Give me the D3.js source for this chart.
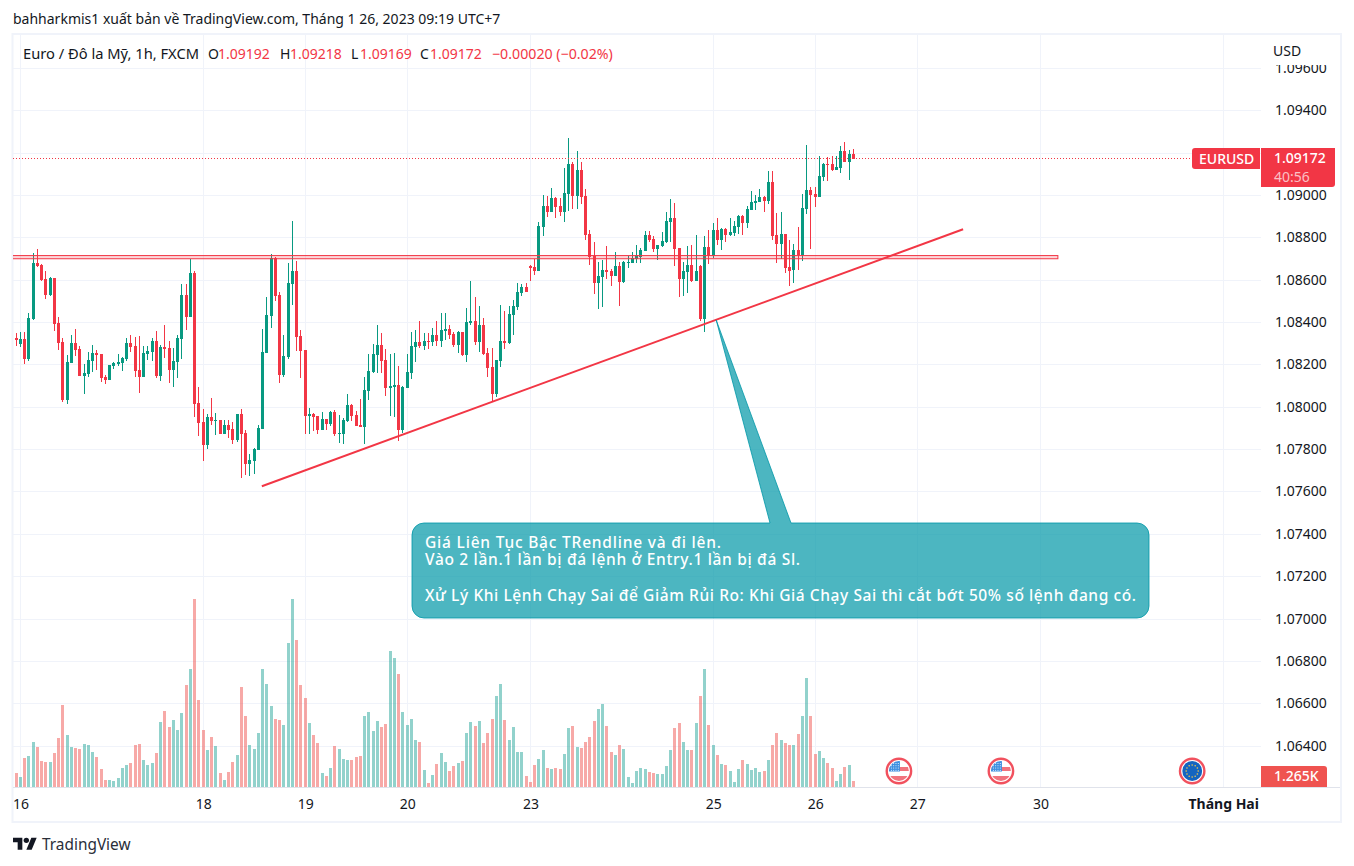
<!DOCTYPE html>
<html>
<head>
<meta charset="utf-8">
<script src="https://cdn.jsdelivr.net/npm/d3@7"></script>
<style>
html, body { margin: 0; padding: 0; background: #fff; }
svg { display: block; }
text { font-family: "Noto Sans", sans-serif; fill: #131722; }
</style>
</head>
<body>
<script>
// candles (1h EURUSD)
var opens = [
1.08325,1.08297,1.08320,1.08226,1.08415,1.08679,1.08669,1.08603,1.08528,1.08608,
1.08396,1.08306,1.08032,1.08207,1.08301,1.08273,1.08146,1.08155,1.08216,1.08254,
1.08249,1.08141,1.08127,1.08193,1.08202,1.08207,1.08226,1.08301,1.08287,1.08174,
1.08141,1.08249,1.08259,1.08311,1.08146,1.08282,1.08278,1.08174,1.08212,1.08320,
1.08528,1.08424,1.08632,1.08018,1.07929,1.07820,1.07952,1.07933,1.07938,1.07872,
1.07914,1.07896,1.07844,1.07966,1.07877,1.07730,1.07745,1.07796,1.07896,1.08254,
1.08429,1.08702,1.08528,1.08150,1.08235,1.08580,1.08642,1.08335,1.08269,1.07957,
1.07967,1.07957,1.07891,1.07943,1.07920,1.07976,1.07872,1.07872,1.07934,1.08009,
1.07962,1.07915,1.07905,1.08075,1.08165,1.08245,1.08292,1.08222,1.08089,1.08094,
1.08104,1.07891,1.08089,1.08160,1.08283,1.08307,1.08288,1.08311,1.08307,1.08340,
1.08311,1.08358,1.08368,1.08344,1.08292,1.08354,1.08245,1.08396,1.08406,1.08307,
1.08387,1.08255,1.08189,1.08061,1.08217,1.08311,1.08302,1.08434,1.08472,1.08538,
1.08566,1.08665,1.08660,1.08642,1.08849,1.08948,1.08920,1.08986,1.08948,1.08920,
1.09005,1.09147,1.08996,1.09118,1.08996,1.08816,1.08712,1.08585,1.08613,1.08646,
1.08642,1.08618,1.08665,1.08590,1.08679,1.08679,1.08698,1.08708,1.08736,1.08812,
1.08793,1.08745,1.08760,1.08778,1.08873,1.08892,1.08750,1.08604,1.08637,1.08670,
1.08594,1.08665,1.08415,1.08755,1.08712,1.08835,1.08788,1.08840,1.08812,1.08821,
1.08849,1.08901,1.08868,1.08929,1.08963,1.08967,1.08991,1.08972,1.09062,1.08812,
1.08769,1.08816,1.08660,1.08646,1.08741,1.08717,1.08934,1.09024,1.09005,1.08991,
1.09085,1.09147,1.09147,1.09118,1.09128,1.09208,1.09156,1.09192]
var highs = [
1.08347,1.08353,1.08352,1.08441,1.08726,1.08745,1.08673,1.08641,1.08613,1.08608,
1.08424,1.08325,1.08245,1.08339,1.08367,1.08287,1.08202,1.08259,1.08292,1.08268,
1.08249,1.08150,1.08198,1.08212,1.08249,1.08235,1.08325,1.08339,1.08330,1.08334,
1.08287,1.08287,1.08325,1.08358,1.08292,1.08386,1.08311,1.08278,1.08339,1.08580,
1.08580,1.08698,1.08641,1.08094,1.07990,1.07966,1.08042,1.07971,1.07938,1.07938,
1.07938,1.07929,1.07966,1.07990,1.07891,1.07778,1.07806,1.07914,1.08367,1.08518,
1.08721,1.08707,1.08542,1.08339,1.08679,1.08877,1.08689,1.08363,1.08269,1.07995,
1.07972,1.07957,1.07976,1.07943,1.07981,1.07986,1.07962,1.07948,1.08061,1.08014,
1.07981,1.08038,1.08141,1.08250,1.08297,1.08387,1.08349,1.08274,1.08250,1.08255,
1.08193,1.08099,1.08250,1.08354,1.08363,1.08406,1.08349,1.08349,1.08373,1.08406,
1.08443,1.08443,1.08387,1.08354,1.08358,1.08354,1.08467,1.08594,1.08519,1.08476,
1.08420,1.08278,1.08278,1.08222,1.08481,1.08453,1.08476,1.08505,1.08585,1.08580,
1.08585,1.08670,1.08698,1.08873,1.09000,1.08996,1.09033,1.08991,1.08986,1.09128,
1.09269,1.09156,1.09208,1.09156,1.09029,1.08835,1.08778,1.08684,1.08694,1.08760,
1.08651,1.08731,1.08684,1.08689,1.08712,1.08731,1.08764,1.08750,1.08830,1.08830,
1.08807,1.08764,1.08826,1.08920,1.08981,1.08963,1.08750,1.08684,1.08760,1.08764,
1.08812,1.08670,1.08807,1.08835,1.08868,1.08892,1.08845,1.08845,1.08892,1.08878,
1.08906,1.08906,1.08948,1.09019,1.09000,1.09029,1.08996,1.09114,1.09114,1.08915,
1.08920,1.08816,1.08788,1.08769,1.08849,1.09005,1.09236,1.09038,1.09038,1.09184,
1.09151,1.09180,1.09184,1.09184,1.09231,1.09250,1.09213,1.09218]
var lows = [
1.08289,1.08282,1.08204,1.08218,1.08410,1.08660,1.08594,1.08509,1.08523,1.08358,
1.08268,1.08023,1.08014,1.08207,1.08240,1.08146,1.08061,1.08141,1.08165,1.08174,
1.08117,1.08108,1.08127,1.08179,1.08193,1.08169,1.08216,1.08259,1.08141,1.08065,
1.08141,1.08221,1.08216,1.08136,1.08122,1.08231,1.08113,1.08094,1.08136,1.08226,
1.08363,1.08424,1.07952,1.07863,1.07745,1.07801,1.07914,1.07867,1.07872,1.07872,
1.07853,1.07825,1.07834,1.07664,1.07678,1.07674,1.07683,1.07796,1.07896,1.08254,
1.08372,1.08500,1.08113,1.08141,1.08226,1.08481,1.08264,1.08137,1.07872,1.07872,
1.07887,1.07872,1.07891,1.07891,1.07910,1.07863,1.07830,1.07825,1.07929,1.07934,
1.07910,1.07905,1.07825,1.08033,1.08160,1.08160,1.08160,1.08052,1.07957,1.07953,
1.07839,1.07877,1.08089,1.08132,1.08212,1.08278,1.08269,1.08274,1.08288,1.08288,
1.08283,1.08316,1.08321,1.08283,1.08255,1.08241,1.08212,1.08387,1.08292,1.08259,
1.08245,1.08141,1.08023,1.08047,1.08189,1.08274,1.08297,1.08340,1.08458,1.08524,
1.08543,1.08594,1.08623,1.08642,1.08807,1.08896,1.08920,1.08892,1.08901,1.08873,
1.08925,1.08934,1.08934,1.08958,1.08788,1.08670,1.08533,1.08462,1.08472,1.08604,
1.08571,1.08618,1.08476,1.08585,1.08656,1.08679,1.08679,1.08679,1.08736,1.08778,
1.08731,1.08694,1.08755,1.08774,1.08778,1.08665,1.08519,1.08524,1.08538,1.08590,
1.08594,1.08406,1.08354,1.08675,1.08703,1.08764,1.08741,1.08778,1.08807,1.08807,
1.08816,1.08812,1.08845,1.08929,1.08929,1.08967,1.08920,1.08958,1.08788,1.08679,
1.08698,1.08632,1.08571,1.08585,1.08646,1.08689,1.08911,1.08745,1.08944,1.08991,
1.09066,1.09066,1.09114,1.09118,1.09104,1.09156,1.09071,1.09169]
var closes = [
1.08316,1.08320,1.08226,1.08419,1.08679,1.08665,1.08599,1.08528,1.08608,1.08391,
1.08301,1.08032,1.08212,1.08301,1.08268,1.08146,1.08160,1.08221,1.08254,1.08245,
1.08136,1.08127,1.08198,1.08207,1.08212,1.08231,1.08301,1.08282,1.08169,1.08141,
1.08254,1.08264,1.08311,1.08146,1.08282,1.08273,1.08174,1.08216,1.08325,1.08528,
1.08424,1.08632,1.08014,1.07924,1.07820,1.07952,1.07933,1.07938,1.07872,1.07914,
1.07891,1.07844,1.07966,1.07872,1.07730,1.07749,1.07801,1.07900,1.08259,1.08434,
1.08702,1.08523,1.08150,1.08240,1.08585,1.08641,1.08330,1.08264,1.07957,1.07967,
1.07953,1.07891,1.07943,1.07920,1.07976,1.07872,1.07877,1.07938,1.08009,1.07957,
1.07910,1.07905,1.08080,1.08170,1.08250,1.08292,1.08217,1.08089,1.08099,1.08104,
1.07891,1.08094,1.08165,1.08288,1.08307,1.08288,1.08311,1.08307,1.08340,1.08311,
1.08363,1.08368,1.08340,1.08292,1.08354,1.08245,1.08401,1.08406,1.08307,1.08387,
1.08250,1.08184,1.08061,1.08222,1.08311,1.08302,1.08439,1.08476,1.08543,1.08566,
1.08543,1.08656,1.08642,1.08854,1.08948,1.08920,1.08986,1.08944,1.08920,1.09010,
1.09147,1.08996,1.09118,1.08991,1.08812,1.08708,1.08585,1.08618,1.08646,1.08637,
1.08618,1.08665,1.08590,1.08684,1.08684,1.08701,1.08716,1.08741,1.08812,1.08788,
1.08745,1.08764,1.08783,1.08878,1.08892,1.08745,1.08604,1.08642,1.08670,1.08594,
1.08642,1.08415,1.08755,1.08712,1.08835,1.08788,1.08840,1.08812,1.08826,1.08854,
1.08901,1.08868,1.08934,1.08967,1.08972,1.08991,1.08972,1.09062,1.08807,1.08769,
1.08816,1.08656,1.08642,1.08741,1.08717,1.08939,1.09024,1.09000,1.08991,1.09090,
1.09147,1.09142,1.09118,1.09132,1.09208,1.09156,1.09194,1.09172]
// volume in thousands
var volumes = [
2.94,2.10,6.09,6.51,9.45,8.40,5.46,5.25,5.25,7.14,
10.29,17.22,10.92,8.40,8.19,7.98,9.03,8.82,7.35,6.30,
3.78,1.47,1.47,1.26,1.89,3.99,4.62,5.04,8.82,9.03,
5.67,4.62,5.04,7.14,13.65,15.96,12.60,14.07,11.97,15.54,
21.42,24.78,39.48,18.27,11.97,7.77,10.50,8.61,2.94,1.47,
3.15,5.25,6.72,21.00,14.91,8.82,7.98,11.34,24.78,21.63,
17.01,14.28,14.07,13.02,30.24,39.48,30.87,21.42,18.69,13.44,
10.92,9.24,2.94,2.31,3.99,8.61,7.98,5.88,5.67,5.67,
6.30,6.51,14.91,15.75,11.76,13.86,12.60,13.23,28.56,27.09,
23.73,15.75,13.02,14.28,9.87,9.45,3.57,0.84,2.52,4.83,
7.14,5.25,3.36,4.41,5.04,5.46,11.34,13.65,12.81,13.86,
9.24,11.34,14.28,19.11,21.63,14.07,9.87,12.60,7.35,7.35,
2.31,1.05,4.62,5.88,7.77,3.99,3.78,3.99,3.78,6.93,
12.39,12.81,8.40,8.19,9.45,10.50,13.86,16.38,17.43,12.81,
7.35,6.72,8.82,7.98,2.10,0.84,3.36,3.99,3.78,3.15,
2.94,2.73,2.73,4.41,7.77,12.39,13.44,9.45,7.77,7.77,
13.44,19.11,24.78,13.02,8.82,6.72,4.83,4.62,3.36,1.05,
3.78,5.67,4.83,3.57,3.99,3.15,3.36,5.67,8.82,11.34,
9.87,9.24,8.82,8.82,11.13,14.91,22.89,14.91,6.93,7.56,
6.09,5.04,3.99,1.26,2.73,4.20,4.62,1.265]

var priceTicks = [1.064,1.066,1.068,1.070,1.072,1.074,1.076,1.078,1.080,1.082,1.084,1.086,1.088,1.090,1.092,1.094,1.096]
var timeTickIdx = [1,44,68,92,121,164,188,212,241,284]
var timeTickLabels = ["16","18","19","20","23","25","26","27","30","Tháng Hai"]

var lastPrice = 1.09172
var zonePrices = [1.08714,1.08699], zoneIdx = [-1,245.1]
var trendIdx = [57.8,222.8], trendPrices = [1.07625,1.08838]
var calloutTip = [164.7,1.0841]
var calloutLines = ["Giá Liên Tục Bậc TRendline và đi lên.","Vào 2 lần.1 lần bị đá lệnh ở Entry.1 lần bị đá Sl.","","Xử Lý Khi Lệnh Chạy Sai để Giảm Rủi Ro: Khi Giá Chạy Sai thì cắt bớt 50% số lệnh đang có."]
var eventIdx = [207.7,231.7,276.7], eventFlags = ["us","us","eu"]

var red = "#f23645", green = "#089981", gridColor = "#f0f3fa"
var width = 1354, height = 866
var paneLeft = 13, paneRight = 1261, paneTop = 35, paneBottom = 787, frameRight = 1341

var svg = d3.select("body").append("svg")
    .attr("width", width)
    .attr("height", height)

var x = d3.scaleLinear().domain([0,284]).range([16.2,1223.2])
var y = d3.scaleLinear().domain([1.064,1.094]).range([745.6,110.3])
var yVol = d3.scaleLinear().domain([0,40]).range([paneBottom,paneBottom-190.5])

var defs = svg.append("defs")
defs.append("clipPath").attr("id","pane").append("rect")
    .attr("x",paneLeft).attr("y",paneTop)
    .attr("width",paneRight-paneLeft).attr("height",paneBottom-paneTop)
defs.append("clipPath").attr("id","flagclip").append("circle").attr("r",10)

// top caption
svg.append("text").attr("x",13).attr("y",24).attr("font-size",14)
    .text("bahharkmis1 xuất bản về TradingView.com, Tháng 1 26, 2023 09:19 UTC+7")

// frame
svg.append("rect").attr("x",12.5).attr("y",34).attr("width",frameRight-12.5).attr("height",788)
    .attr("fill","none").attr("stroke",gridColor).attr("stroke-width",2)

//grid ================================
svg.append("g").selectAll("line").data(priceTicks).join("line")
    .attr("x1",paneLeft).attr("x2",paneRight)
    .attr("y1",d=>Math.round(y(d))+.5).attr("y2",d=>Math.round(y(d))+.5)
    .attr("stroke",gridColor)
svg.append("g").selectAll("line").data(timeTickIdx).join("line")
    .attr("x1",d=>Math.floor(x(d))+.5).attr("x2",d=>Math.floor(x(d))+.5)
    .attr("y1",paneTop).attr("y2",paneBottom)
    .attr("stroke",gridColor)

var isUp = i => closes[i] >= opens[i]

// volume
svg.append("g").selectAll("rect").data(volumes).join("rect")
    .attr("x",(d,i)=>Math.floor(x(i))-1)
    .attr("width",3)
    .attr("y",d=>Math.round(yVol(d)))
    .attr("height",d=>paneBottom-Math.round(yVol(d)))
    .attr("fill",(d,i)=>isUp(i) ? "#26a69a" : "#ef5350")
    .attr("fill-opacity",.5)

// candles
var candles = svg.append("g").attr("shape-rendering","crispEdges")
    .selectAll("g").data(opens).join("g")
    .attr("fill",(d,i)=>isUp(i) ? green : red)
candles.append("rect")
    .attr("x",(d,i)=>Math.floor(x(i)))
    .attr("width",1)
    .attr("y",(d,i)=>Math.round(y(highs[i])))
    .attr("height",(d,i)=>Math.max(1,Math.round(y(lows[i]))-Math.round(y(highs[i]))))
candles.append("rect")
    .attr("x",(d,i)=>Math.floor(x(i))-1)
    .attr("width",3)
    .attr("y",(d,i)=>Math.round(y(Math.max(opens[i],closes[i]))))
    .attr("height",(d,i)=>Math.max(1,Math.round(y(Math.min(opens[i],closes[i])))-Math.round(y(Math.max(opens[i],closes[i])))))

// horizontal zone
svg.append("rect")
    .attr("clip-path","url(#pane)")
    .attr("x",x(zoneIdx[0])).attr("width",x(zoneIdx[1])-x(zoneIdx[0]))
    .attr("y",y(zonePrices[0])).attr("height",y(zonePrices[1])-y(zonePrices[0]))
    .attr("fill",red).attr("fill-opacity",.2)
    .attr("stroke",red).attr("stroke-width",1)

// trendline
svg.append("path")
    .datum(trendIdx.map((d,i)=>[x(d),y(trendPrices[i])]))
    .attr("d",d3.line())
    .attr("stroke",red).attr("stroke-width",2).attr("fill","none")

// callout
var cb = {left:412, right:1149, top:523, bottom:618, r:12, gapL:770, gapR:791}
var tipX = x(calloutTip[0]), tipY = y(calloutTip[1])
svg.append("path")
    .attr("d","M"+(cb.left+cb.r)+","+cb.top
      +"L"+cb.gapL+","+cb.top+"L"+tipX+","+tipY+"L"+cb.gapR+","+cb.top
      +"L"+(cb.right-cb.r)+","+cb.top
      +"A"+cb.r+","+cb.r+" 0 0 1 "+cb.right+","+(cb.top+cb.r)
      +"L"+cb.right+","+(cb.bottom-cb.r)
      +"A"+cb.r+","+cb.r+" 0 0 1 "+(cb.right-cb.r)+","+cb.bottom
      +"L"+(cb.left+cb.r)+","+cb.bottom
      +"A"+cb.r+","+cb.r+" 0 0 1 "+cb.left+","+(cb.bottom-cb.r)
      +"L"+cb.left+","+(cb.top+cb.r)
      +"A"+cb.r+","+cb.r+" 0 0 1 "+(cb.left+cb.r)+","+cb.top+"Z")
    .attr("fill","#0097a7").attr("fill-opacity",.7)
    .attr("stroke","#0097a7").attr("stroke-opacity",.8).attr("stroke-width",1)
var calloutWidths = [296,375,0,711]
svg.append("g").selectAll("text").data(calloutLines).join("text")
    .attr("x",425)
    .attr("y",(d,i)=>547.5+i*17.9)
    .attr("font-size",15.5)
    .attr("textLength",(d,i)=>calloutWidths[i] || null)
    .attr("lengthAdjust","spacing")
    .style("fill","#fff")
    .style("font-weight",500)
    .text(d=>d)

// events
var ev = svg.append("g").selectAll("g").data(eventIdx).join("g")
    .attr("transform",d=>"translate("+x(d)+",771)")
ev.append("circle").attr("r",12.2).attr("fill","#fff").attr("stroke","#f1515e").attr("stroke-width",2.4)
ev.each(function(d,i){
  var g = d3.select(this).append("g").attr("clip-path","url(#flagclip)")
  if(eventFlags[i]=="eu"){
    g.append("rect").attr("x",-10).attr("y",-10).attr("width",20).attr("height",20).attr("fill","#1565c0")
    d3.range(12).forEach(k=>{
      g.append("circle").attr("r",.8).attr("fill","#f7c948")
        .attr("cx",6*Math.cos(k*Math.PI/6)).attr("cy",6*Math.sin(k*Math.PI/6))
    })
  } else {
    g.append("rect").attr("x",-10).attr("y",-10).attr("width",20).attr("height",20).attr("fill","#fff")
    g.append("rect").attr("x",-10).attr("y",-4).attr("width",20).attr("height",4).attr("fill","#f1737d")
    g.append("rect").attr("x",-10).attr("y",5).attr("width",20).attr("height",5).attr("fill","#f1737d")
    g.append("rect").attr("x",-10).attr("y",-10).attr("width",11).attr("height",10.5).attr("fill","#3d8fe0")
    d3.range(4).forEach(r=>d3.range(4).forEach(c=>{
      g.append("rect").attr("x",-8+c*2.3).attr("y",-8+r*2.3).attr("width",.9).attr("height",.9).attr("fill","#fff")
    }))
  }
})

// last price line, one dot every 3px
svg.append("g").attr("fill",red).selectAll("rect").data(d3.range(paneLeft,1192,3)).join("rect")
    .attr("x",d=>d).attr("y",Math.floor(y(lastPrice)))
    .attr("width",1).attr("height",1)

// price axis
var priceAxis = svg.append("g")
    .attr("transform","translate("+paneRight+",0)")
    .call(d3.axisRight(y).tickValues(priceTicks).tickSize(0).tickPadding(14).tickFormat(d3.format(".5f")))
priceAxis.select(".domain").remove()
priceAxis.selectAll("text").attr("font-size",14).style("font-family",'"Noto Sans", sans-serif').style("fill","#131722")

// hide the top of the clipped scale label
svg.append("rect").attr("x",1262).attr("y",36).attr("width",78).attr("height",29).attr("fill","#fff")
svg.append("text").attr("x",1273).attr("y",56).attr("font-size",14).text("USD")

// time axis
svg.append("line").attr("x1",paneLeft).attr("x2",frameRight-1)
    .attr("y1",paneBottom+.5).attr("y2",paneBottom+.5).attr("stroke","#e0e3eb")
var timeAxis = svg.append("g")
    .attr("transform","translate(0,"+paneBottom+")")
    .call(d3.axisBottom(x).tickValues(timeTickIdx).tickSize(0).tickPadding(12).tickFormat((d,i)=>timeTickLabels[i]))
timeAxis.select(".domain").remove()
timeAxis.selectAll("text").attr("font-size",14).style("font-family",'"Noto Sans", sans-serif').style("fill","#131722")
    .style("font-weight",(d,i)=>i==timeTickIdx.length-1 ? 700 : 400)

// legend row
var legendSeg = [
  {t:"Euro / Đô la Mỹ, 1h, FXCM", x:23, c:"#131722", s:14.7},
  {t:"O", x:208, c:"#131722", s:14}, {t:"1.09192", x:218, c:red, s:14},
  {t:"H", x:280, c:"#131722", s:14}, {t:"1.09218", x:290, c:red, s:14},
  {t:"L", x:351, c:"#131722", s:14}, {t:"1.09169", x:360, c:red, s:14},
  {t:"C", x:420, c:"#131722", s:14}, {t:"1.09172", x:430, c:red, s:14},
  {t:"−0.00020 (−0.02%)", x:492, c:red, s:14.2}
]
svg.append("g").selectAll("text").data(legendSeg).join("text")
    .attr("x",d=>d.x).attr("y",59).attr("font-size",d=>d.s)
    .style("fill",d=>d.c).text(d=>d.t)

// last price tags
svg.append("path").attr("d","M1260,148H1195a3,3 0 0 0 -3,3V166a3,3 0 0 0 3,3H1260Z").attr("fill",red)
svg.append("text").attr("x",1199).attr("y",164).attr("font-size",14).style("fill","#fff").style("font-weight",500).text("EURUSD")
svg.append("path").attr("d","M1261,148H1335V184a3,3 0 0 1 -3,3H1261Z").attr("fill",red)
svg.append("text").attr("x",1274).attr("y",163).attr("font-size",14).style("fill","#fff").style("font-weight",500).text(d3.format(".5f")(lastPrice))
svg.append("text").attr("x",1274).attr("y",182).attr("font-size",14).style("fill","#fff").style("fill-opacity",.7).text("40:56")

// volume tag
svg.append("path").attr("d","M1261,766H1324a3,3 0 0 1 3,3V787H1261Z").attr("fill","#ef5350")
svg.append("text").attr("x",1274).attr("y",781).attr("font-size",14).style("fill","#fff").style("font-weight",500).text("1.265K")

// logo
var logo = svg.append("g").attr("transform","translate(13,835) scale(.667)").attr("fill","#131722")
logo.append("path").attr("d","M14 22H7V11H0V4h14v18zM28 22h-8l7.5-18h8L28 22z")
logo.append("circle").attr("cx",20).attr("cy",8).attr("r",4)
svg.append("text").attr("x",42).attr("y",850).attr("font-size",15.4).style("fill","#2a2e39").text("TradingView")
</script>
</body>
</html>
